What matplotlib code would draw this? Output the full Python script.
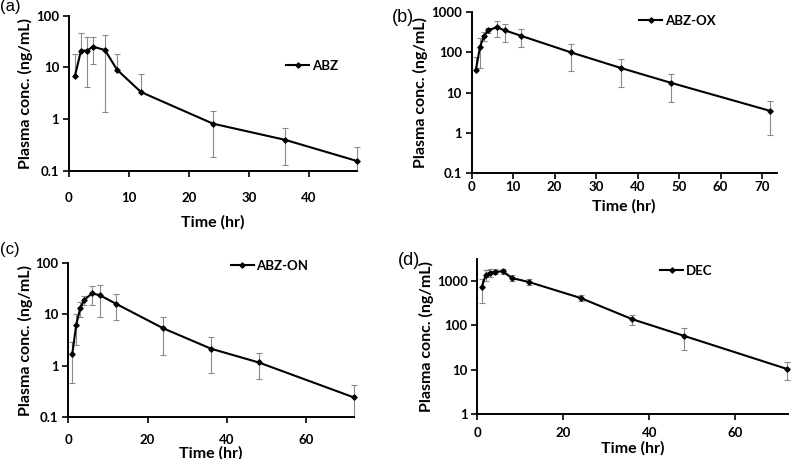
import numpy as np
import matplotlib
matplotlib.use("Agg")
import matplotlib.pyplot as plt
from matplotlib.ticker import FixedLocator, FuncFormatter

# Plasma concentration (mean, SD) per analyte
time_abz = [1, 2, 3, 4, 6, 8, 12, 24, 36, 48]
abz_mean = [6.9, 21.1, 21.1, 25.2, 21.7, 9.06, 3.35, 0.82, 0.40, 0.156]
abz_sd = [11.0, 24.4, 17.0, 13.5, 20.3, 9.1, 4.0, 0.63, 0.27, 0.134]

time_full = [1, 2, 3, 4, 6, 8, 12, 24, 36, 48, 72]
abzox_mean = [36, 137, 258, 355, 424, 355, 258, 100, 41, 17.6, 3.5]
abzox_sd = [40, 95, 66, 55, 180, 170, 120, 66, 27, 11.6, 2.6]

abzon_mean = [1.67, 6.2, 13, 18.9, 25.4, 23.3, 16, 5.3, 2.14, 1.16, 0.243]
abzon_sd = [1.2, 3.7, 4.3, 4.0, 10.2, 14.3, 8.3, 3.7, 1.43, 0.61, 0.18]

dec_mean = [708, 1365, 1513, 1594, 1621, 1148, 933, 408, 136, 57.5, 10.3]
dec_sd = [390, 370, 295, 205, 195, 170, 136, 57, 37, 30, 4.5]

panels = [
    # label, name, t, mean, sd, rect, xlim, xticks, ylim, yticks, tickpad, xlabelpad, legend pos, label pos, label size
    ("(a)", "ABZ", time_abz, abz_mean, abz_sd,
     [0.0872, 0.6275, 0.3641, 0.3383], (0, 48), [0, 10, 20, 30, 40],
     (0.1, 100), [0.1, 1, 10, 100], 11, 8, (286, 65.7), (0, -1), 12),
    ("(b)", "ABZ-OX", time_full, abzox_mean, abzox_sd,
     [0.5963, 0.6231, 0.3856, 0.3501], (0, 73.5), [0, 10, 20, 30, 40, 50, 60, 70],
     (0.1, 1000), [0.1, 1, 10, 100, 1000], 2, 4, (639, 20.7), (392, 9), 13),
    ("(c)", "ABZ-ON", time_full, abzon_mean, abzon_sd,
     [0.0863, 0.0908, 0.3612, 0.3369], (0, 72), [0, 20, 40, 60],
     (0.1, 100), [0.1, 1, 10, 100], 8, 0, (230.7, 265.7), (0, 242), 12),
    ("(d)", "DEC", time_full, dec_mean, dec_sd,
     [0.6034, 0.098, 0.3928, 0.3371], (0, 72.2), [0, 20, 40, 60],
     (1, 3030), [1, 10, 100, 1000], 5, 2, (660, 271), (398, 252), 13),
]

W, H = 791, 459
fig = plt.figure(figsize=(W / 100, H / 100), dpi=100)

tick_font = "Lato"
err_color = "#8a8a8a"

for (lab, name, t, m, sd, rect, xlim, xticks, ylim, yticks, tpad, xlpad,
     legpos, labpos, labsize) in panels:
    ax = fig.add_axes(rect)
    t = np.array(t, dtype=float)
    m = np.array(m, dtype=float)
    sd = np.array(sd, dtype=float)
    ax.set_yscale("log")

    # error bars: lower half only where mean - sd stays positive,
    # cut at the axis floor
    hi = m + sd
    lo = m - sd
    has_lo = lo > 0
    lo_cap = has_lo & (lo >= ylim[0])
    lo_end = np.where(has_lo, np.maximum(lo, ylim[0]), m)
    ax.vlines(t, lo_end, hi, color=err_color, lw=0.8, zorder=1, clip_on=False)
    ax.plot(t, hi, ls="none", marker="_", ms=5, mew=0.8, color=err_color,
            zorder=1, clip_on=False)
    ax.plot(t[lo_cap], lo[lo_cap], ls="none", marker="_", ms=5, mew=0.8,
            color=err_color, zorder=1, clip_on=False)

    ax.plot(t, m, color="black", lw=1.5, marker="D", ms=2.8, mew=0.8,
            label=name, zorder=3, clip_on=False)

    ax.set_xlim(*xlim)
    ax.set_ylim(*ylim)
    ax.set_xticks(xticks)
    ax.yaxis.set_major_locator(FixedLocator(yticks))
    ax.yaxis.set_minor_locator(FixedLocator([]))
    ax.yaxis.set_major_formatter(FuncFormatter(lambda v, p: "%g" % v))

    for s in ["top", "right"]:
        ax.spines[s].set_visible(False)
    for s in ["left", "bottom"]:
        ax.spines[s].set_linewidth(1.4)
    ax.tick_params(axis="both", direction="out", length=4, width=1.2, labelsize=9.5)
    ax.tick_params(axis="x", pad=tpad)
    ax.tick_params(axis="y", pad=3)
    for tl in ax.get_xticklabels() + ax.get_yticklabels():
        tl.set_fontfamily(tick_font)
        tl.set_fontweight("bold")

    ax.set_xlabel("Time (hr)", fontsize=11.5, fontweight="bold", family=tick_font,
                  labelpad=xlpad)
    ax.set_ylabel("Plasma conc. (ng/mL)", fontsize=11.5, fontweight="bold",
                  family=tick_font, labelpad=2)

    leg = ax.legend(loc="center left", bbox_to_anchor=(legpos[0] / W, 1 - legpos[1] / H),
                    bbox_transform=fig.transFigure, frameon=False, borderpad=0,
                    borderaxespad=0, handlelength=1.75, handletextpad=0.2,
                    numpoints=1, prop={"family": tick_font, "weight": "bold", "size": 9.5})

    fig.text(labpos[0] / W, 1 - labpos[1] / H, lab, ha="left", va="top",
             fontsize=labsize, family="Liberation Sans")

fig.savefig("out.png", dpi=100)
